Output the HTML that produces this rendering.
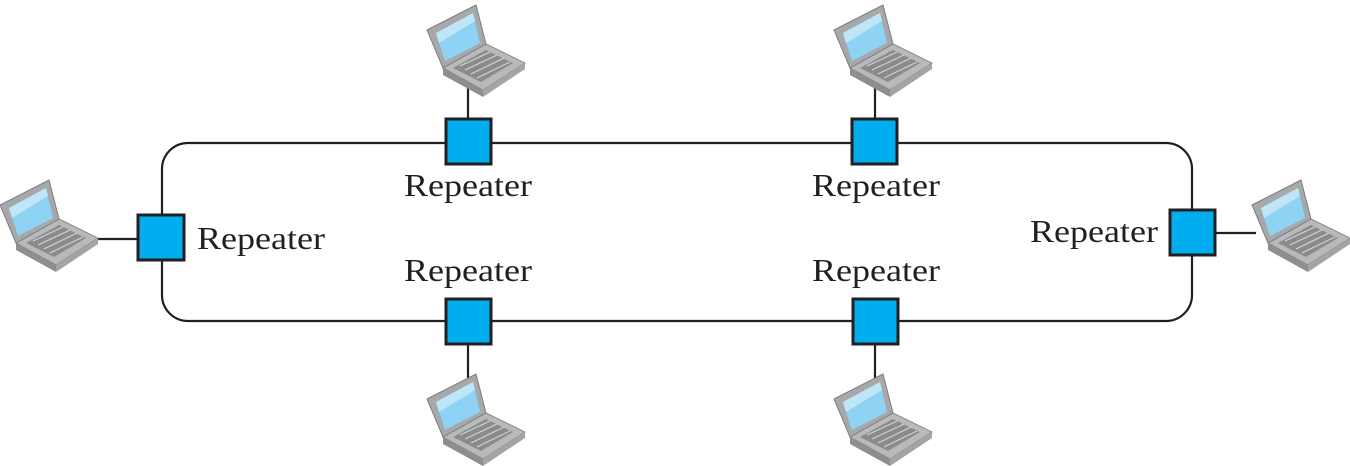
<!DOCTYPE html>
<html><head><style>body{margin:0;background:#fff}svg{display:block}text{font-family:"Liberation Serif",serif;font-size:32px;fill:#231f20}</style></head><body>
<svg width="1350" height="466" viewBox="0 0 1350 466">
<defs>
<g id="lp">
<polygon points="16,63 59,39 98,58 56,85" fill="#b8b9bb" stroke="#8a8b8d" stroke-width="1"/>
<polygon points="16,63 56,85 56,92 16,70" fill="#8d8e90"/>
<polygon points="56,85 98,58 98,64 56,92" fill="#a3a4a6"/>
<polygon points="26,63 59,45 86,58 54,77" fill="#8a8b8d"/>
<g stroke="#d5d6d8" stroke-width="1">
<line x1="33" y1="61" x2="63" y2="47"/><line x1="38" y1="65" x2="70" y2="50"/><line x1="44" y1="69" x2="77" y2="53"/><line x1="50" y1="73" x2="83" y2="57"/>
</g>
<polygon points="0,25 49,0 59,39 16,63" fill="#a7a8aa" stroke="#7d7e80" stroke-width="1"/>
<polygon points="9,28 46,8 53,38 18,56" fill="#8fd3f4"/>
<polygon points="9,28 46,8 48,16 12,38" fill="#bfe6f8"/>
</g>
</defs>
<g fill="none" stroke="#231f20" stroke-width="2.2">
<rect x="162" y="143" width="1030" height="178" rx="26"/>
<line x1="468" y1="88" x2="468" y2="118"/><line x1="875" y1="88" x2="875" y2="118"/>
<line x1="468" y1="345" x2="468" y2="378"/><line x1="875" y1="345" x2="875" y2="378"/>
<line x1="97" y1="239" x2="137" y2="239"/><line x1="1216" y1="233" x2="1256" y2="233"/>
</g>
<g fill="#00aeef" stroke="#231f20" stroke-width="3">
<rect x="446" y="119" width="45" height="45"/><rect x="852" y="119" width="45" height="45"/>
<rect x="138" y="215" width="46" height="45"/><rect x="1170" y="210" width="45" height="45"/>
<rect x="446" y="299" width="45" height="45"/><rect x="853" y="299" width="45" height="45"/>
</g>
<use href="#lp" x="427" y="5"/><use href="#lp" x="834" y="5"/>
<use href="#lp" x="427" y="374"/><use href="#lp" x="834" y="374"/>
<use href="#lp" x="0" y="180"/><use href="#lp" x="1252" y="180"/>
<text x="404" y="196" textLength="128" lengthAdjust="spacingAndGlyphs">Repeater</text>
<text x="812" y="196" textLength="128" lengthAdjust="spacingAndGlyphs">Repeater</text>
<text x="197" y="249" textLength="128" lengthAdjust="spacingAndGlyphs">Repeater</text>
<text x="1030" y="242" textLength="128" lengthAdjust="spacingAndGlyphs">Repeater</text>
<text x="404" y="281" textLength="128" lengthAdjust="spacingAndGlyphs">Repeater</text>
<text x="812" y="281" textLength="128" lengthAdjust="spacingAndGlyphs">Repeater</text>
</svg></body></html>
